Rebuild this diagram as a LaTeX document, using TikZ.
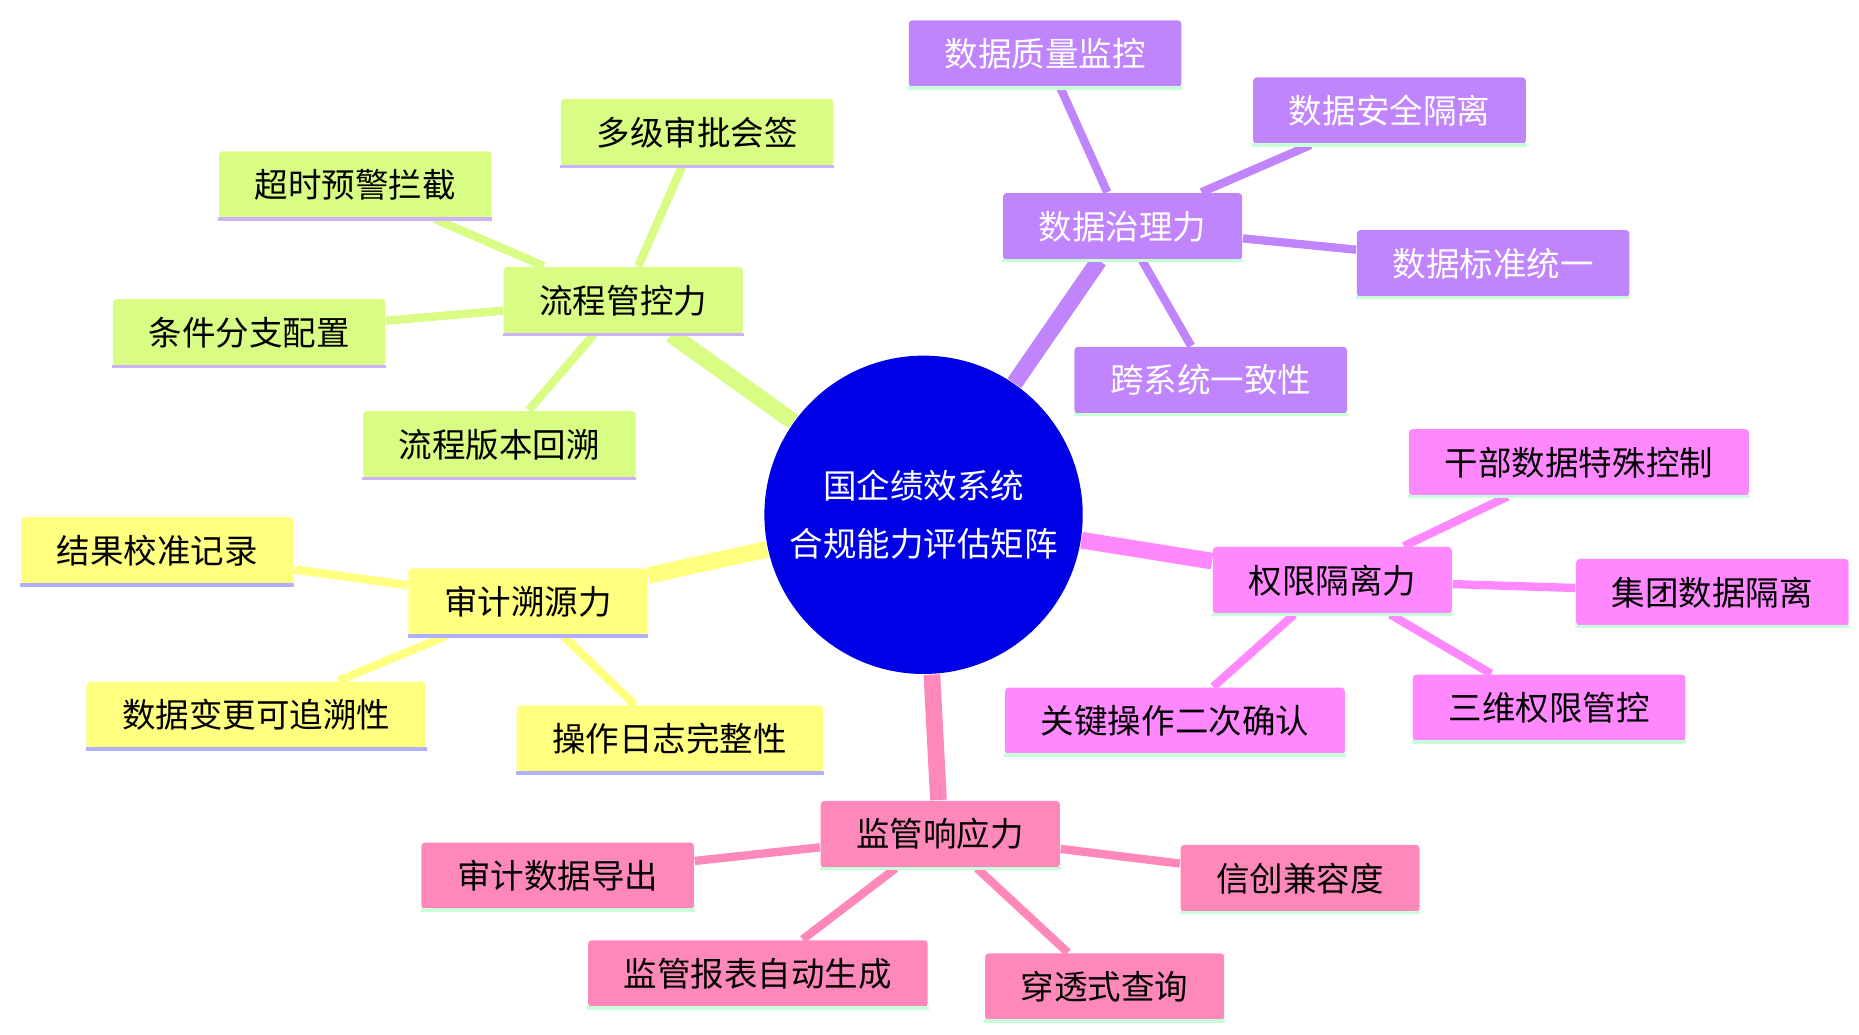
\documentclass[tikz,border=0pt]{standalone}
\usepackage{fontspec}
\setmainfont{Noto Sans CJK SC}
\usetikzlibrary{backgrounds}
\definecolor{cgreen}{HTML}{D9FC84}
\definecolor{cpurple}{HTML}{C084FC}
\definecolor{cmagenta}{HTML}{FF88FF}
\definecolor{cpink}{HTML}{FF88BB}
\definecolor{cyellow}{HTML}{FFFF80}
\definecolor{lavender}{HTML}{CCB3FF}
\definecolor{mint}{HTML}{C8FFD8}
\definecolor{periw}{HTML}{B0B0FF}
\definecolor{cblue}{HTML}{0000E6}
\tikzset{
  box/.style 2 args={fill=#1, rounded corners=0.03cm, minimum width=2cm,
    minimum height=0.56cm, inner xsep=0.3cm, font=\fontsize{8}{10}\selectfont,
    append after command={(\tikzlastnode.south west) edge[draw=#2, line width=0.03cm]
      (\tikzlastnode.south east)}},
  gbox/.style={box={cgreen}{lavender}},
  pbox/.style={box={cpurple}{mint}, text=white},
  mbox/.style={box={cmagenta}{mint}},
  kbox/.style={box={cpink}{mint}},
  ybox/.style={box={cyellow}{periw}},
  trunk/.style={line width=0.14cm},
  twig/.style={line width=0.07cm},
}
\begin{document}
\begin{tikzpicture}
  \useasboundingbox (0,0) rectangle (15.6,-8.685);
  \node[circle, fill=cblue, minimum size=2.5cm, text=white, align=center,
    font=\fontsize{8}{14}\selectfont] (core) at (7.75,-4.32) {国企绩效系统\\合规能力评估矩阵};
  % process control
  \node[gbox] (flow) at (5.23,-2.52) {流程管控力};
  \node[gbox] (flow1) at (5.85,-1.11) {多级审批会签};
  \node[gbox] (flow2) at (2.98,-1.55) {超时预警拦截};
  \node[gbox] (flow3) at (2.09,-2.79) {条件分支配置};
  \node[gbox] (flow4) at (4.19,-3.73) {流程版本回溯};
  % data governance
  \node[pbox] (data) at (9.42,-1.90) {数据治理力};
  \node[pbox] (data1) at (8.77,-0.45) {数据质量监控};
  \node[pbox] (data2) at (11.66,-0.93) {数据安全隔离};
  \node[pbox] (data3) at (12.53,-2.21) {数据标准统一};
  \node[pbox] (data4) at (10.16,-3.19) {跨系统一致性};
  % access isolation
  \node[mbox] (perm) at (11.18,-4.87) {权限隔离力};
  \node[mbox] (perm1) at (13.25,-3.88) {干部数据特殊控制};
  \node[mbox] (perm2) at (14.37,-4.97) {集团数据隔离};
  \node[mbox] (perm3) at (13.00,-5.94) {三维权限管控};
  \node[mbox] (perm4) at (9.86,-6.05) {关键操作二次确认};
  % regulatory response
  \node[kbox] (reg) at (7.89,-7.00) {监管响应力};
  \node[kbox] (reg1) at (4.68,-7.35) {审计数据导出};
  \node[kbox] (reg2) at (10.91,-7.37) {信创兼容度};
  \node[kbox] (reg3) at (6.36,-8.17) {监管报表自动生成};
  \node[kbox] (reg4) at (9.27,-8.28) {穿透式查询};
  % audit trace
  \node[ybox] (audit) at (4.43,-5.05) {审计溯源力};
  \node[ybox] (audit1) at (1.32,-4.62) {结果校准记录};
  \node[ybox] (audit2) at (2.15,-6.00) {数据变更可追溯性};
  \node[ybox] (audit3) at (5.62,-6.20) {操作日志完整性};
  \begin{scope}[on background layer]
    \draw[trunk, cgreen] (core) -- (flow);
    \draw[trunk, cpurple] (core) -- (data);
    \draw[trunk, cmagenta] (core) -- (perm);
    \draw[trunk, cpink] (core) -- (reg);
    \draw[trunk, cyellow] (core) -- (audit);
    \foreach \i in {1,...,4} {
      \draw[twig, cgreen] (flow) -- (flow\i);
      \draw[twig, cpurple] (data) -- (data\i);
      \draw[twig, cmagenta] (perm) -- (perm\i);
      \draw[twig, cpink] (reg) -- (reg\i);
    }
    \foreach \i in {1,2,3}
      \draw[twig, cyellow] (audit) -- (audit\i);
  \end{scope}
\end{tikzpicture}
\end{document}
